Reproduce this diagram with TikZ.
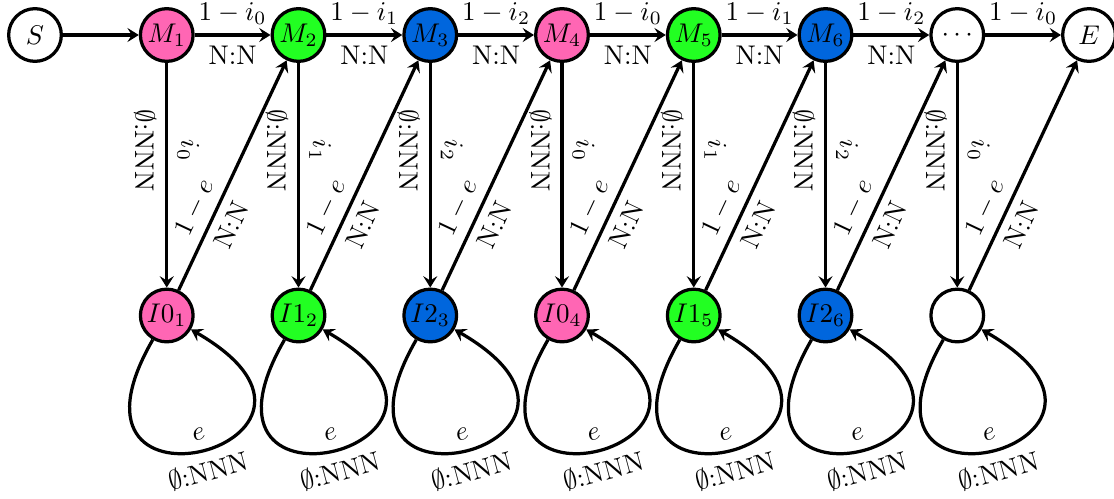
\documentclass[tikz,border=0pt]{standalone}
\usetikzlibrary{arrows.meta}
\definecolor{cpink}{RGB}{255,102,180}
\definecolor{cgreen}{RGB}{34,255,34}
\definecolor{cblue}{RGB}{0,102,221}
\begin{document}
\begin{tikzpicture}[x=0.37pt,y=0.37pt,line width=1.2pt,
  >={Stealth[length=4.2pt,width=5.2pt,inset=1.6pt]},
  state/.style={circle,draw,minimum size=19.5pt,inner sep=0pt},
  trans/.style={->},
  vup/.style={pos=0.39,rotate=-90,anchor=south},
  vdown/.style={pos=0.39,rotate=-90,anchor=north},
  dlab/.style={pos=0.32,sloped}]
\useasboundingbox (0,0) rectangle (1114,-498);
\node[state] (S) at (35,-35) {$S$};
\foreach \k/\c/\i in {1/cpink/0,2/cgreen/1,3/cblue/2,4/cpink/0,5/cgreen/1,6/cblue/2}{
  \node[state,fill=\c] (M\k) at (35+131.75*\k,-35) {$M_\k$};
  \node[state,fill=\c] (I\k) at (35+131.75*\k,-315.5) {$I\i_\k$};
}
\node[state] (M7) at (957.25,-35) {$\cdots$};
\node[state] (I7) at (957.25,-315.5) {};
\node[state] (E) at (1089,-35) {$E$};
\draw[trans] (S) -- (M1);
\foreach \k/\n/\i in {1/2/0,2/3/1,3/4/2,4/5/0,5/6/1,6/7/2}{
  \draw[trans] (M\k) -- (M\n) node[midway,above]{$1-i_\i$} node[midway,below]{N:N};
}
\draw[trans] (M7) -- (E) node[midway,above]{$1-i_0$};
\foreach \k/\n/\i in {1/M2/0,2/M3/1,3/M4/2,4/M5/0,5/M6/1,6/M7/2,7/E/0}{
  \draw[trans] (M\k) -- (I\k) node[vup]{$i_\i$} node[vdown]{$\emptyset$:NNN};
  \draw[trans] (I\k) -- (\n) node[dlab,above]{$1-e$} node[dlab,below]{N:N};
  \draw[trans] (I\k.-120) .. controls +(-120:226) and +(-30:226) .. (I\k.-30)
    node[pos=0.5,sloped,above]{$e$} node[pos=0.5,sloped,below]{$\emptyset$:NNN};
}
\end{tikzpicture}
\end{document}
